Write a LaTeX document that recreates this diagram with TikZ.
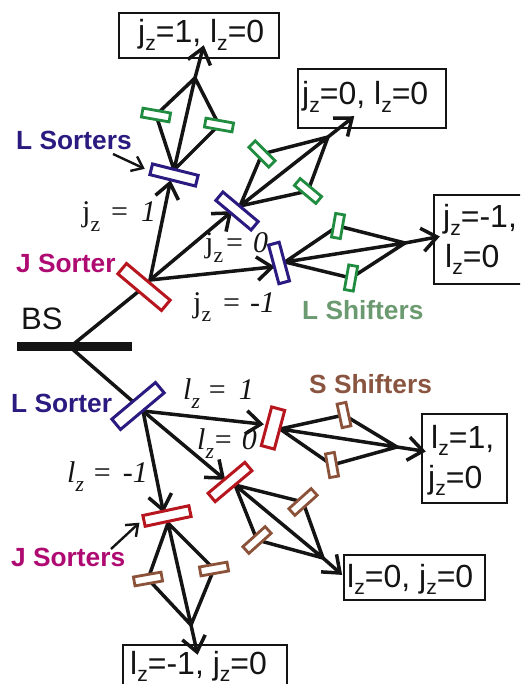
\documentclass[tikz,border=0pt]{standalone}
\usepackage{fontspec}
\usepackage{graphicx}
\setmainfont{Liberation Sans}
\newfontfamily\serifcut{Liberation Serif}
\usetikzlibrary{calc,backgrounds}
\definecolor{jmag}{HTML}{AE0A72}
\definecolor{lnavy}{HTML}{2B1B80}
\definecolor{lgreen}{HTML}{6B9A70}
\definecolor{sbrown}{HTML}{8A5540}
\definecolor{rectgreen}{HTML}{1F8C3F}
\definecolor{rectred}{HTML}{B8161F}
\definecolor{rectbrown}{HTML}{8B5139}
\definecolor{ink}{HTML}{141414}
\newcommand\zb{\raisebox{-0.23em}{\scalebox{0.66}{z}}}
\newcommand\zs{\raisebox{-0.32em}{\scalebox{0.72}{z}}}
\newcommand\gap[1]{\hspace{#1pt}}
% connector with an open two-stroke head: \conn{from}{to}
\newcommand\conn[2]{\path[path1] (#1) -- (#2);
  \path[path1,line join=miter,line cap=butt] ($(#2)!19pt!38:(#1)$) -- (#2) -- ($(#2)!19pt!-38:(#1)$);}
\newcommand\pointer[2]{\path[thinline] (#1) -- (#2);
  \path[thinline,line join=miter] ($(#2)!13pt!38:(#1)$) -- (#2) -- ($(#2)!13pt!-38:(#1)$);}
\tikzset{
  plate/.style={draw,fill=white,line width=2.8pt,inner sep=0pt,minimum width=#1,minimum height=9pt},
  sortbar/.style={draw,fill=white,line width=3pt,inner sep=0pt,minimum height=11pt},
  path1/.style={draw=ink,line width=3.5pt,line cap=round,line join=round},
  thinline/.style={draw=ink,line width=2.4pt},
  result/.style={draw=ink,line width=1.8pt,fill=white,inner sep=0pt,anchor=north west},
  rtext/.style={anchor=base west,inner sep=0pt,font=\fontsize{32}{34}\selectfont,text=ink},
  tag/.style={anchor=base west,inner sep=0pt,font=\fontsize{26.3}{28}\selectfont\bfseries},
  eq/.style={anchor=base west,inner sep=0pt,font=\fontsize{30}{32}\selectfont\serifcut,text=ink},
}
\begin{document}
\begin{tikzpicture}[x=1pt,y=-1pt]
\useasboundingbox (0,0) rectangle (520,684);
\clip (0,0) rectangle (520,684);
% beam splitter and first sorters
\node[draw=none,fill=ink,inner sep=0pt,minimum width=115pt,minimum height=9pt] (bs) at (74.5,346.5) {};
\node[sortbar,draw=rectred,minimum width=57pt,minimum height=13.5pt,rotate=-40] (J0) at (144,287) {};
\node[sortbar,draw=lnavy,minimum width=57pt,minimum height=13.5pt,rotate=40] (L0) at (138,406) {};
\coordinate (bs0) at (70,347);
\coordinate (J0s) at (150,280);
\coordinate (L0s) at (143,411);
% second stage sorters
\node[sortbar,draw=lnavy,minimum width=47pt,rotate=-14] (LA) at (174,175) {};
\node[sortbar,draw=lnavy,minimum width=46pt,rotate=-40] (LB) at (237,211) {};
\node[sortbar,draw=lnavy,minimum width=40pt,rotate=-75] (LC) at (279,263) {};
\node[sortbar,draw=rectred,minimum width=40pt,minimum height=13.5pt,rotate=75] (RA) at (273,428) {};
\node[sortbar,draw=rectred,minimum width=48pt,rotate=40] (RB) at (230,482) {};
\node[sortbar,draw=rectred,minimum width=47pt,rotate=12] (RC) at (167,516) {};
\coordinate (LAs) at (174,170);
\coordinate (LBs) at (240,206);
\coordinate (LCs) at (285,262);
\coordinate (RAs) at (280,429);
\coordinate (RBs) at (235,485);
\coordinate (RCs) at (168,523);
% shifters
\node[plate=28pt,draw=rectgreen,rotate=-10] (a1) at (156,115) {};
\node[plate=28pt,draw=rectgreen,rotate=-10] (a2) at (219,125) {};
\node[plate=28pt,draw=rectgreen,rotate=-45] (b1) at (262,154) {};
\node[plate=28pt,draw=rectgreen,rotate=-40] (b2) at (308,191) {};
\node[plate=24pt,draw=rectgreen,rotate=80] (c1) at (338,226) {};
\node[plate=25pt,draw=rectgreen,rotate=80] (c2) at (351,278) {};
\node[plate=24pt,draw=rectbrown,rotate=-78] (d1) at (344,415) {};
\node[plate=24pt,draw=rectbrown,rotate=-80] (d2) at (332,465) {};
\node[plate=30pt,draw=rectbrown,rotate=42] (e1) at (303,502) {};
\node[plate=30pt,draw=rectbrown,rotate=42] (e2) at (257,540) {};
\node[plate=28pt,draw=rectbrown,rotate=10] (f1) at (148,579) {};
\node[plate=28pt,draw=rectbrown,rotate=10] (f2) at (214,569) {};
% recombination points
\coordinate (aT) at (195,78);
\coordinate (bT) at (328,137);
\coordinate (cT) at (405,243);
\coordinate (dT) at (397,447);
\coordinate (eT) at (323,558);
\coordinate (fT) at (191,625);
% results
\node[result,minimum width=160pt,minimum height=45pt] (r1) at (118,12) {};
\node[result,minimum width=148pt,minimum height=59pt] (r2) at (297,68) {};
\node[result,minimum width=95pt,minimum height=89pt] (r3) at (433,194) {};
\node[result,minimum width=85pt,minimum height=89pt] (r4) at (421,413) {};
\node[result,minimum width=141pt,minimum height=45pt] (r5) at (343,554) {};
\node[result,minimum width=164pt,minimum height=60pt] (r6) at (122,644) {};
\node[rtext] (r1t) at (138,43) {j\zb=1, l\zb=0};
\node[rtext] (r2t) at (302,105) {j\zb=0, l\zb=0};
\node[rtext] (r3t) at (443,228) {j\zb=-1,};
\node[rtext] (r3u) at (445,267) {l\zb=0};
\node[rtext] (r4t) at (431,448) {l\zb=1,};
\node[rtext] (r4u) at (428,488) {j\zb=0};
\node[rtext] (r5t) at (347,587) {l\zb=0, j\zb=0};
\node[rtext] (r6t) at (130,674) {l\zb=-1, j\zb=0};
% end points of arrows
\coordinate (r1in) at (203,48);
\coordinate (r2in) at (352,118);
\coordinate (r3in) at (437,237);
\coordinate (r4in) at (423,451);
\coordinate (r5in) at (340,573);
\coordinate (r6in) at (197,652);
\coordinate (LAin) at (170,183);
\coordinate (LBin) at (230,213);
\coordinate (LCin) at (272,267);
\coordinate (RAin) at (261,424);
\coordinate (RBin) at (223,478);
\coordinate (RCin) at (163,510);
\begin{scope}[on background layer]
\path[path1] (bs0) -- (J0.center);
\path[path1] (bs0) -- (L0.center);
\conn{J0s}{LAin}
\conn{J0s}{LBin}
\conn{J0s}{LCin}
\conn{L0s}{RAin}
\conn{L0s}{RBin}
\conn{L0s}{RCin}
\path[path1] (LAs) -- (a1.center) -- (aT) -- (a2.center) -- (LAs) -- (aT);
\path[path1] (LBs) -- (b1.center) -- (bT) -- (b2.center) -- (LBs) -- (bT);
\path[path1] (LCs) -- (c1.center) -- (cT) -- (c2.center) -- (LCs) -- (cT);
\path[path1] (RAs) -- (d1.center) -- (dT) -- (d2.center) -- (RAs) -- (dT);
\path[path1] (RBs) -- (e1.center) -- (eT) -- (e2.center) -- (RBs) -- (eT);
\path[path1] (RCs) -- (f1.center) -- (fT) -- (f2.center) -- (RCs) -- (fT);
\end{scope}
\conn{aT}{r1in}
\conn{bT}{r2in}
\conn{cT}{r3in}
\conn{dT}{r4in}
\conn{eT}{r5in}
\conn{fT}{r6in}
% labels
\node[anchor=base west,inner sep=0pt,font=\fontsize{31}{33}\selectfont,text=ink] (bslab) at (21,329) {BS};
\node[tag,text=lnavy] (t1) at (16,150) {L Sorters};
\node[tag,text=jmag] (t2) at (16,272) {J Sorter};
\node[tag,text=lnavy] (t3) at (11,412) {L Sorter};
\node[tag,text=jmag] (t4) at (11,566) {J Sorters};
\node[tag,text=lgreen] (t5) at (302,319) {L Shifters};
\node[tag,text=sbrown] (t6) at (309,393) {S Shifters};
\node[eq] (q1) at (82,222) {j\zs\gap{11}=\gap{13}\textit{1}};
\node[eq] (q2) at (205,253) {j\zs\gap{3}=\gap{10}\textit{0}};
\node[eq] (q3) at (193,312) {j\zs\gap{12}=\gap{10}-\textit{1}};
\node[eq] (q4) at (183,399) {\textit{l\zs}\gap{9}=\gap{13}\textit{1}};
\node[eq] (q5) at (197,449) {\textit{l\zs}\gap{1}=\gap{10}\textit{0}};
\node[eq] (q6) at (67,482) {\textit{l\zs}\gap{10}=\gap{12}-\textit{1}};
\coordinate (p1a) at (113,154);
\coordinate (p1b) at (143,168);
\coordinate (p2a) at (111,549);
\coordinate (p2b) at (138,524);
\pointer{p1a}{p1b}
\pointer{p2a}{p2b}
\end{tikzpicture}
\end{document}
